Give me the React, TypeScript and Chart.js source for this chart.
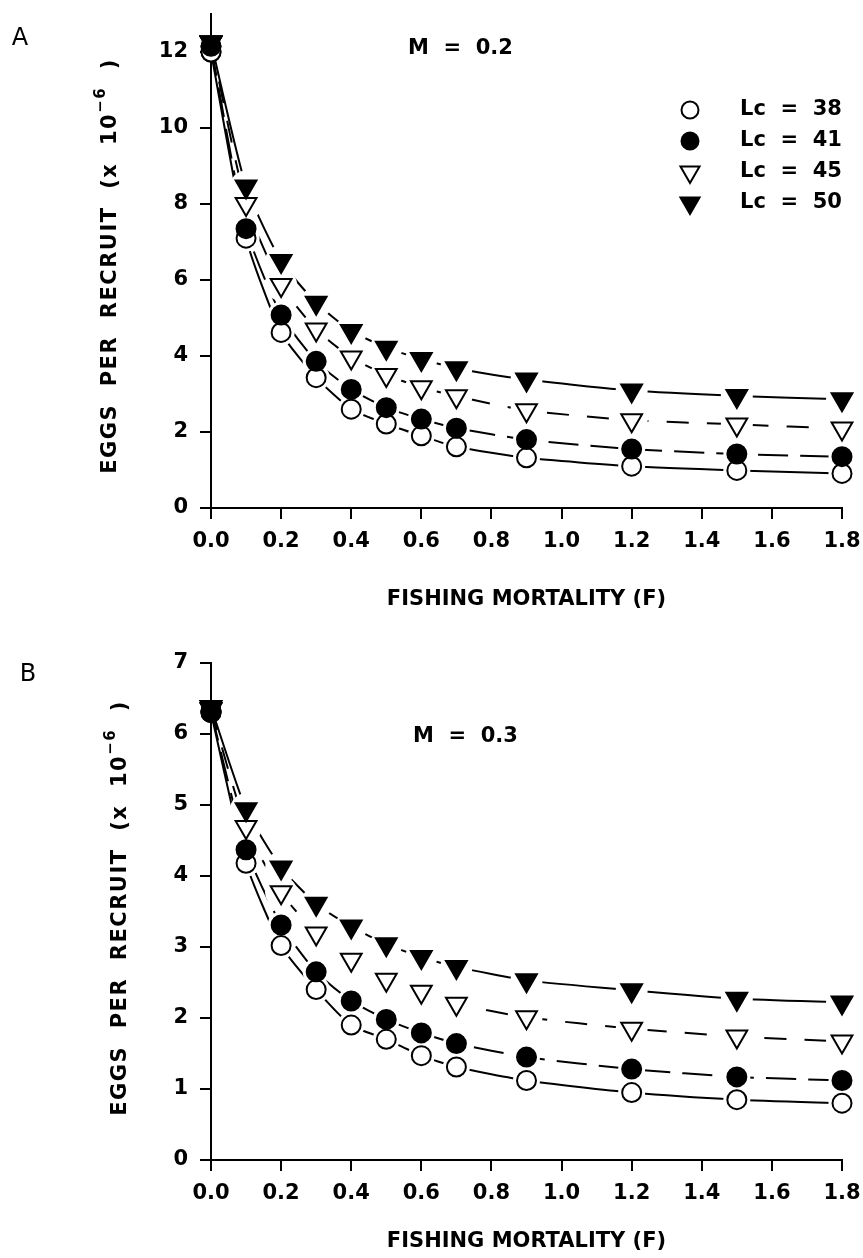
import React, { useEffect, useRef } from 'react';
import { Chart, registerables } from 'chart.js';
import { drawPoint } from 'chart.js/helpers';

Chart.register(...registerables);

// Fishing mortality values at which eggs per recruit were computed
const fishingMortality = [0, 0.1, 0.2, 0.3, 0.4, 0.5, 0.6, 0.7, 0.9, 1.2, 1.5, 1.8];
const xTickValues = [0, 0.2, 0.4, 0.6, 0.8, 1.0, 1.2, 1.4, 1.6, 1.8];

// Panel A: natural mortality M = 0.2 (eggs per recruit, x 10^-6)
const eprLc38M02 = [12.0, 7.1, 4.62, 3.43, 2.6, 2.21, 1.9, 1.61, 1.32, 1.1, 0.99, 0.91];
const eprLc41M02 = [12.15, 7.35, 5.08, 3.86, 3.12, 2.64, 2.34, 2.1, 1.8, 1.55, 1.42, 1.35];
const eprLc45M02 = [12.25, 8.0, 5.87, 4.7, 3.96, 3.5, 3.18, 2.94, 2.57, 2.31, 2.2, 2.09];
const eprLc50M02 = [12.25, 8.46, 6.5, 5.4, 4.66, 4.22, 3.92, 3.68, 3.38, 3.09, 2.95, 2.86];
const yTicksA = [0, 2, 4, 6, 8, 10, 12];

// Panel B: natural mortality M = 0.3
const eprLc38M03 = [6.3, 4.18, 3.02, 2.4, 1.9, 1.7, 1.47, 1.31, 1.12, 0.95, 0.85, 0.8];
const eprLc41M03 = [6.32, 4.37, 3.31, 2.65, 2.24, 1.98, 1.79, 1.64, 1.45, 1.28, 1.17, 1.12];
const eprLc45M03 = [6.35, 4.69, 3.77, 3.19, 2.82, 2.54, 2.37, 2.2, 2.01, 1.85, 1.74, 1.67];
const eprLc50M03 = [6.38, 4.94, 4.12, 3.61, 3.29, 3.04, 2.86, 2.72, 2.53, 2.39, 2.27, 2.22];
const yTicksB = [0, 1, 2, 3, 4, 5, 6, 7];

const seriesLabels = ['Lc  =  38', 'Lc  =  41', 'Lc  =  45', 'Lc  =  50'];

const FONT = "'DejaVu Sans', Verdana, sans-serif";
const INK = '#000';

const seriesStyles = [
  { pointStyle: 'circle', rotation: 0, fill: '#fff', radius: 9.5, dash: [] as number[] },
  { pointStyle: 'circle', rotation: 0, fill: INK, radius: 9.5, dash: [30, 12] },
  { pointStyle: 'triangle', rotation: 180, fill: '#fff', radius: 12, dash: [22, 18] },
  { pointStyle: 'triangle', rotation: 180, fill: INK, radius: 12, dash: [] as number[] },
];

interface PanelSpec {
  key: string;
  letter: string;
  mLabel: string;
  series: number[][];
  yMax: number;
  yTicks: number[];
  canvasH: number;
  areaLeft: number;
  areaRight: number;
  areaTop: number;
  areaBottom: number;
  letterPos: [number, number];
  mPos: [number, number];
  xTitleY: number;
  yTitleX: number;
  yTitleY: number;
  legend: boolean;
}

const panelA: PanelSpec = {
  key: 'A',
  letter: 'A',
  mLabel: 'M  =  0.2',
  series: [eprLc38M02, eprLc41M02, eprLc45M02, eprLc50M02],
  yMax: 13,
  yTicks: yTicksA,
  canvasH: 630,
  areaLeft: 211,
  areaRight: 842,
  areaTop: 10,
  areaBottom: 508,
  letterPos: [20, 39],
  mPos: [408, 49],
  xTitleY: 600,
  yTitleX: 116,
  yTitleY: 266,
  legend: true,
};

const panelB: PanelSpec = {
  key: 'B',
  letter: 'B',
  mLabel: 'M  =  0.3',
  series: [eprLc38M03, eprLc41M03, eprLc45M03, eprLc50M03],
  yMax: 7,
  yTicks: yTicksB,
  canvasH: 628,
  areaLeft: 211,
  areaRight: 842,
  areaTop: 33,
  areaBottom: 530,
  letterPos: [28, 45],
  mPos: [413, 107],
  xTitleY: 612,
  yTitleX: 126,
  yTitleY: 278,
  legend: false,
};

function annotationPlugin(spec: PanelSpec) {
  return {
    id: 'panelAnnotations' + spec.key,
    afterDatasetsDraw(chart: any) {
      const ctx: CanvasRenderingContext2D = chart.ctx;
      const metas = chart.data.datasets.map((_: any, i: number) => chart.getDatasetMeta(i));
      // clear the curves around each marker
      ctx.save();
      ctx.fillStyle = '#fff';
      metas.forEach((meta: any, i: number) => {
        meta.data.forEach((pt: any, j: number) => {
          if (j === 0) return;
          ctx.beginPath();
          ctx.arc(pt.x, pt.y, seriesStyles[i].radius + 4, 0, Math.PI * 2);
          ctx.fill();
        });
      });
      ctx.restore();
      [0, 2, 1, 3].forEach((i) => {
        metas[i].data.forEach((pt: any) => pt.draw(ctx, chart.chartArea));
      });
    },
    afterDraw(chart: any) {
      const ctx: CanvasRenderingContext2D = chart.ctx;
      const area = chart.chartArea;
      ctx.save();
      ctx.fillStyle = INK;

      // panel letter
      ctx.font = `24px ${FONT}`;
      ctx.textAlign = 'center';
      ctx.textBaseline = 'middle';
      ctx.fillText(spec.letter, spec.letterPos[0], spec.letterPos[1]);

      // natural mortality label
      ctx.font = `bold 21px ${FONT}`;
      ctx.textAlign = 'left';
      ctx.fillText(spec.mLabel, spec.mPos[0], spec.mPos[1]);

      // x axis title
      ctx.textAlign = 'center';
      ctx.fillText('FISHING MORTALITY (F)', (area.left + area.right) / 2, spec.xTitleY);

      // y axis title with superscript exponent
      ctx.save();
      ctx.translate(spec.yTitleX, spec.yTitleY);
      ctx.rotate(-Math.PI / 2);
      ctx.textAlign = 'left';
      ctx.textBaseline = 'alphabetic';
      (ctx as any).letterSpacing = '1.5px';
      const big = `bold 21px ${FONT}`;
      const small = `bold 15px ${FONT}`;
      const main = 'EGGS  PER  RECRUIT  (x  10';
      const sup = '\u22126';
      const tail = '  )';
      ctx.font = big;
      const w1 = ctx.measureText(main).width;
      const w3 = ctx.measureText(tail).width;
      ctx.font = small;
      const w2 = ctx.measureText(sup).width;
      let u = -(w1 + w2 + w3) / 2;
      ctx.font = big;
      ctx.fillText(main, u, 0);
      u += w1;
      ctx.font = small;
      ctx.fillText(sup, u, -11);
      u += w2;
      ctx.font = big;
      ctx.fillText(tail, u, 0);
      ctx.restore();

      // legend
      if (spec.legend) {
        const rowY = [110, 141, 172, 203];
        seriesLabels.forEach((label, i) => {
          const st = seriesStyles[i];
          ctx.fillStyle = st.fill;
          ctx.strokeStyle = INK;
          ctx.lineWidth = 2;
          drawPoint(
            ctx,
            { pointStyle: st.pointStyle as any, rotation: st.rotation, radius: st.radius - 1, borderWidth: 2 },
            690,
            rowY[i]
          );
          ctx.fillStyle = INK;
          ctx.font = `bold 21px ${FONT}`;
          ctx.textAlign = 'left';
          ctx.textBaseline = 'middle';
          ctx.fillText(label, 740, rowY[i]);
        });
      }
      ctx.restore();
    },
  };
}

function buildConfig(spec: PanelSpec): any {
  const tickFont = { family: FONT, size: 21, weight: 'bold' as const };
  return {
    type: 'line',
    data: {
      datasets: spec.series.map((values, i) => {
        const st = seriesStyles[i];
        return {
          label: seriesLabels[i],
          data: fishingMortality.map((f, j) => ({ x: f, y: values[j] })),
          borderColor: INK,
          borderWidth: 2,
          borderDash: st.dash,
          tension: 0.2,
          fill: false,
          clip: false,
          pointStyle: st.pointStyle,
          rotation: st.rotation,
          pointRadius: st.radius,
          pointBorderWidth: 2,
          pointBorderColor: INK,
          pointBackgroundColor: st.fill,
        };
      }),
    },
    options: {
      animation: false,
      responsive: false,
      devicePixelRatio: 1,
      events: [],
      layout: {
        padding: { top: spec.areaTop, right: 863 - spec.areaRight, left: 0, bottom: 0 },
      },
      plugins: {
        legend: { display: false },
        tooltip: { enabled: false },
        title: { display: false },
      },
      scales: {
        x: {
          type: 'linear',
          min: 0,
          max: 1.8,
          afterBuildTicks: (s: any) => {
            s.ticks = xTickValues.map((v) => ({ value: v }));
          },
          afterFit: (s: any) => {
            s.height = spec.canvasH - spec.areaBottom;
            s.paddingLeft = 0;
            s.paddingRight = 0;
          },
          grid: { drawOnChartArea: false, drawTicks: true, tickLength: 11, color: INK, lineWidth: 2 },
          border: { display: true, color: INK, width: 2 },
          ticks: {
            color: INK,
            font: tickFont,
            padding: 10,
            maxRotation: 0,
            autoSkip: false,
            callback: (v: any) => Number(v).toFixed(1),
          },
        },
        y: {
          type: 'linear',
          min: 0,
          max: spec.yMax,
          afterBuildTicks: (s: any) => {
            s.ticks = spec.yTicks.map((v) => ({ value: v }));
          },
          afterFit: (s: any) => {
            s.width = spec.areaLeft;
            s.paddingTop = 0;
            s.paddingBottom = 0;
          },
          grid: { drawOnChartArea: false, drawTicks: true, tickLength: 11, color: INK, lineWidth: 2 },
          border: { display: true, color: INK, width: 2 },
          ticks: {
            color: INK,
            font: tickFont,
            padding: 12,
            autoSkip: false,
            callback: (v: any) => String(v),
          },
        },
      },
    },
    plugins: [annotationPlugin(spec)],
  };
}

function Panel({ spec }: { spec: PanelSpec }) {
  const ref = useRef<HTMLCanvasElement>(null);
  useEffect(() => {
    if (!ref.current) return;
    const chart = new Chart(ref.current, buildConfig(spec));
    return () => chart.destroy();
  }, [spec]);
  return (
    <canvas
      ref={ref}
      width={863}
      height={spec.canvasH}
      style={{ display: 'block', width: 863, height: spec.canvasH }}
    />
  );
}

export default function App() {
  return (
    <div
      style={{
        position: 'absolute',
        left: 0,
        top: 0,
        width: 863,
        height: 1258,
        background: '#fff',
        overflow: 'hidden',
      }}
    >
      <Panel spec={panelA} />
      <Panel spec={panelB} />
    </div>
  );
}
